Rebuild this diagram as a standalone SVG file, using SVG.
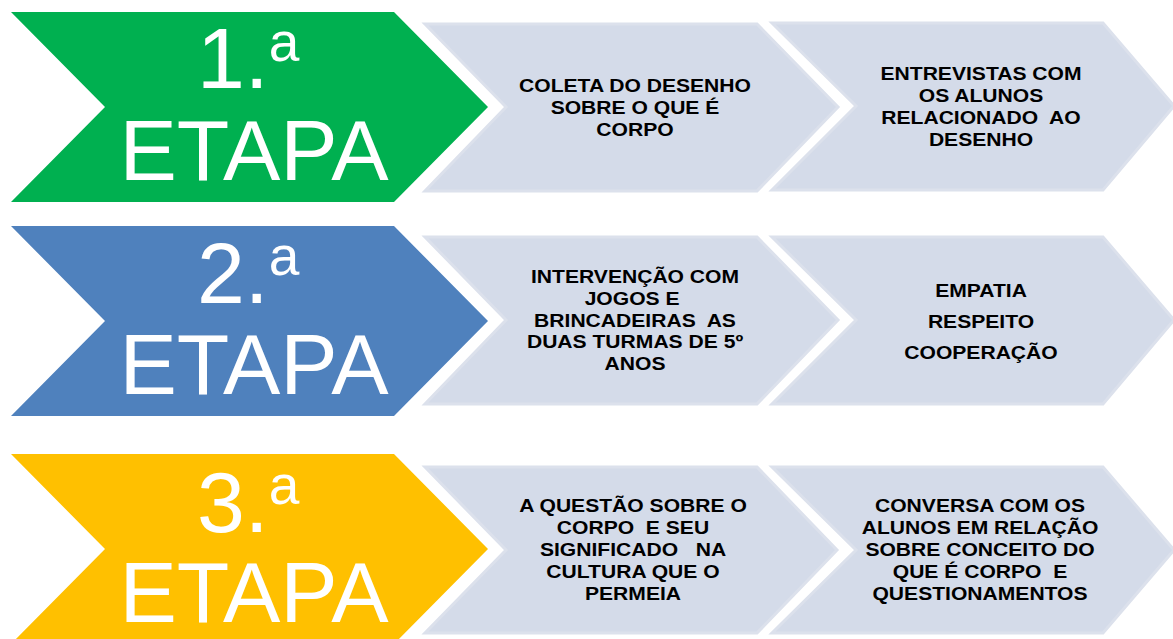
<svg xmlns="http://www.w3.org/2000/svg" width="1173" height="639" viewBox="0 0 1173 639">
<style>
.gray{fill:#D4DBE9;stroke:#DCE1EC;stroke-width:3;stroke-linejoin:miter}
.big{font-family:"Liberation Sans",Arial,sans-serif;font-size:86px;fill:#FFFFFF}
.sup{font-size:55px}
.lbl{font-family:"Liberation Sans",Arial,sans-serif;font-size:19px;font-weight:bold;fill:#000000;text-anchor:middle;white-space:pre}
</style>
<rect width="1173" height="639" fill="#FFFFFF"/>
<g id="row1">
  <g id="etapa1">
    <polygon points="11,12 394,12 488,107 394,202 11,202 105,107" fill="#00B050"/>
    <text class="big" x="197" y="88">1.<tspan class="sup" dy="-27">a</tspan></text>
    <text class="big" x="254" y="180" text-anchor="middle">ETAPA</text>
  </g>
  <g id="coleta">
    <polygon class="gray" points="425,24 757,24 838,107 757,191 425,191 506,107"/>
    <g transform="translate(635 0) scale(1.11 1)">
      <text class="lbl" x="0" y="92">COLETA DO DESENHO</text>
      <text class="lbl" x="0" y="114">SOBRE O QUE É</text>
      <text class="lbl" x="0" y="136">CORPO</text>
    </g>
  </g>
  <g id="entrevistas">
    <polygon class="gray" points="772,23 1103,23 1174,106 1103,190 772,190 856,106"/>
    <g transform="translate(981 0) scale(1.11 1)">
      <text class="lbl" x="0" y="80">ENTREVISTAS COM</text>
      <text class="lbl" x="0" y="102">OS ALUNOS</text>
      <text class="lbl" x="0" y="124">RELACIONADO  AO</text>
      <text class="lbl" x="0" y="146">DESENHO</text>
    </g>
  </g>
</g>
<g id="row2">
  <g id="etapa2">
    <polygon points="11,226 394,226 488,321 394,416 11,416 105,321" fill="#4F81BD"/>
    <text class="big" x="197" y="303">2.<tspan class="sup" dy="-28">a</tspan></text>
    <text class="big" x="254" y="394" text-anchor="middle">ETAPA</text>
  </g>
  <g id="intervencao">
    <polygon class="gray" points="425,237 757,237 838,320 757,404 425,404 506,320"/>
    <g transform="translate(635 0) scale(1.11 1)">
      <text class="lbl" x="0" y="283">INTERVENÇÃO COM</text>
      <text class="lbl" x="0" y="305">JOGOS E </text>
      <text class="lbl" x="0" y="327">BRINCADEIRAS  AS</text>
      <text class="lbl" x="0" y="348">DUAS TURMAS DE 5º</text>
      <text class="lbl" x="0" y="370">ANOS</text>
    </g>
  </g>
  <g id="valores">
    <polygon class="gray" points="772,237 1103,237 1174,320 1103,404 772,404 856,320"/>
    <g transform="translate(981 0) scale(1.11 1)">
      <text class="lbl" x="0" y="297">EMPATIA</text>
      <text class="lbl" x="0" y="328">RESPEITO</text>
      <text class="lbl" x="0" y="359">COOPERAÇÃO</text>
    </g>
  </g>
</g>
<g id="row3">
  <g id="etapa3">
    <polygon points="11,454 394,454 488,549 394,644 11,644 105,549" fill="#FFC000"/>
    <text class="big" x="197" y="532">3.<tspan class="sup" dy="-28">a</tspan></text>
    <text class="big" x="254" y="622" text-anchor="middle">ETAPA</text>
  </g>
  <g id="questao">
    <polygon class="gray" points="425,467 757,467 837,550 757,633 425,633 506,550"/>
    <g transform="translate(633 0) scale(1.11 1)">
      <text class="lbl" x="0" y="512.5">A QUESTÃO SOBRE O</text>
      <text class="lbl" x="0" y="534.5">CORPO  E SEU</text>
      <text class="lbl" x="0" y="556.5">SIGNIFICADO   NA</text>
      <text class="lbl" x="0" y="578.5">CULTURA QUE O</text>
      <text class="lbl" x="0" y="600.5">PERMEIA</text>
    </g>
  </g>
  <g id="conversa">
    <polygon class="gray" points="772,467 1103,467 1174,550 1103,633 772,633 856,550"/>
    <g transform="translate(980 0) scale(1.11 1)">
      <text class="lbl" x="0" y="512">CONVERSA COM OS</text>
      <text class="lbl" x="0" y="534">ALUNOS EM RELAÇÃO</text>
      <text class="lbl" x="0" y="556.5">SOBRE CONCEITO DO</text>
      <text class="lbl" x="0" y="578.5">QUE É CORPO  E</text>
      <text class="lbl" x="0" y="600.5">QUESTIONAMENTOS</text>
    </g>
  </g>
</g>
<g id="connectors"/>
</svg>
